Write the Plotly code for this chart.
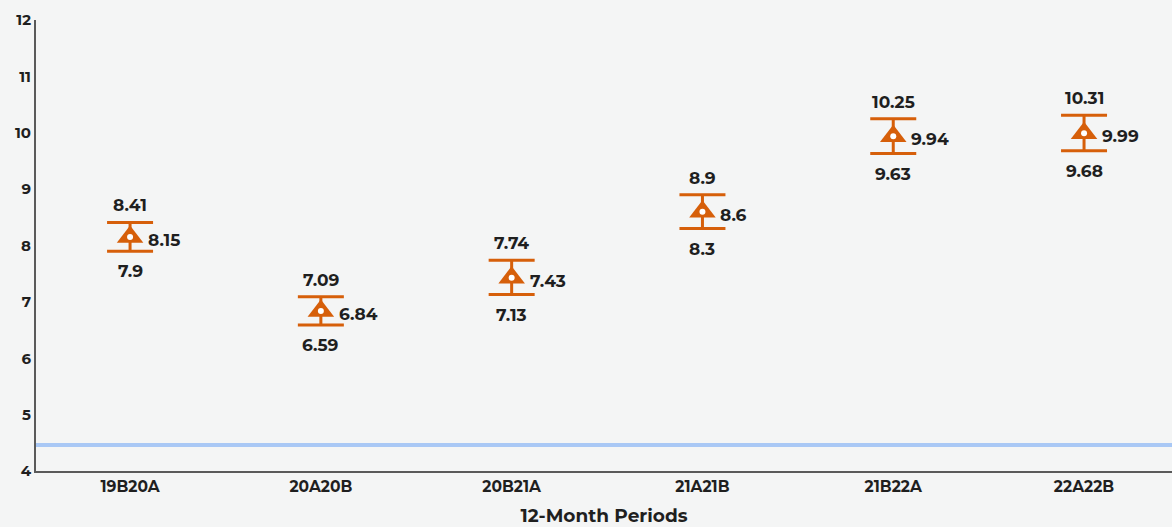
import plotly.graph_objects as go

categories = ["19B20A", "20A20B", "20B21A", "21A21B", "21B22A", "22A22B"]
means = [8.15, 6.84, 7.43, 8.6, 9.94, 9.99]
uppers = [8.41, 7.09, 7.74, 8.9, 10.25, 10.31]
lowers = [7.9, 6.59, 7.13, 8.3, 9.63, 9.68]
ref_value = 4.46
y_ticks = [4, 5, 6, 7, 8, 9, 10, 11, 12]

ORANGE = "#D65F0A"
BG = "#F4F5F5"
TXT = "#1f1f1f"
FONT = "Montserrat, Open Sans, Lato, sans-serif"

xi = list(range(len(categories)))
fig = go.Figure()

# reference line
fig.add_shape(type="line", xref="paper", yref="y", x0=0, x1=1, y0=ref_value, y1=ref_value,
              line=dict(color="#A9C8F5", width=4), layer="below")

fig.add_trace(go.Scatter(
    x=xi, y=means, mode="markers",
    marker=dict(symbol="triangle-up", size=23, color=ORANGE, line=dict(width=0)),
    error_y=dict(type="data", symmetric=False,
                 array=[u - m for u, m in zip(uppers, means)],
                 arrayminus=[m - l for m, l in zip(means, lowers)],
                 color=ORANGE, thickness=3, width=23),
    hoverinfo="skip", showlegend=False))
fig.add_trace(go.Scatter(
    x=xi, y=means, mode="markers",
    marker=dict(symbol="circle", size=6, color="white"),
    hoverinfo="skip", showlegend=False))

LBL = 17
anns = []
for i, (m, u, l) in enumerate(zip(means, uppers, lowers)):
    anns.append(dict(x=i, y=u, xref="x", yref="y", text=f"<b>{u:g}</b>", showarrow=False,
                     yshift=17, font=dict(size=LBL, color=TXT, family=FONT)))
    anns.append(dict(x=i, y=l, xref="x", yref="y", text=f"<b>{l:g}</b>", showarrow=False,
                     yshift=-20, font=dict(size=LBL, color=TXT, family=FONT)))
    anns.append(dict(x=i, y=m, xref="x", yref="y", text=f"<b>{m:g}</b>", showarrow=False,
                     xanchor="left", xshift=16, yshift=-3, font=dict(size=LBL, color=TXT, family=FONT)))

fig.update_layout(
    width=1172, height=527,
    margin=dict(l=36, r=0, t=20, b=56),
    paper_bgcolor=BG, plot_bgcolor=BG,
    annotations=anns,
    xaxis=dict(range=[-0.493, 5.461], tickvals=xi, ticktext=[f"<b>{c}</b>" for c in categories],
               showgrid=False, zeroline=False, showline=True, linecolor="#5a5a5a", linewidth=2,
               ticks="", tickfont=dict(size=15.5, color=TXT, family=FONT),
               title=dict(text="<b>12-Month Periods</b>", font=dict(size=18.5, color=TXT, family=FONT), standoff=16)),
    yaxis=dict(range=[4, 12], tickvals=y_ticks, ticktext=[f"<b>{v}</b>" for v in y_ticks],
               showgrid=False, zeroline=False, showline=True, linecolor="#5a5a5a", linewidth=2,
               ticks="", tickfont=dict(size=15, color=TXT, family=FONT)),
)

fig.write_html("out.html", config={"displayModeBar": False},
               post_script="document.body.style.margin='0';document.body.style.background='#F4F5F5';")
